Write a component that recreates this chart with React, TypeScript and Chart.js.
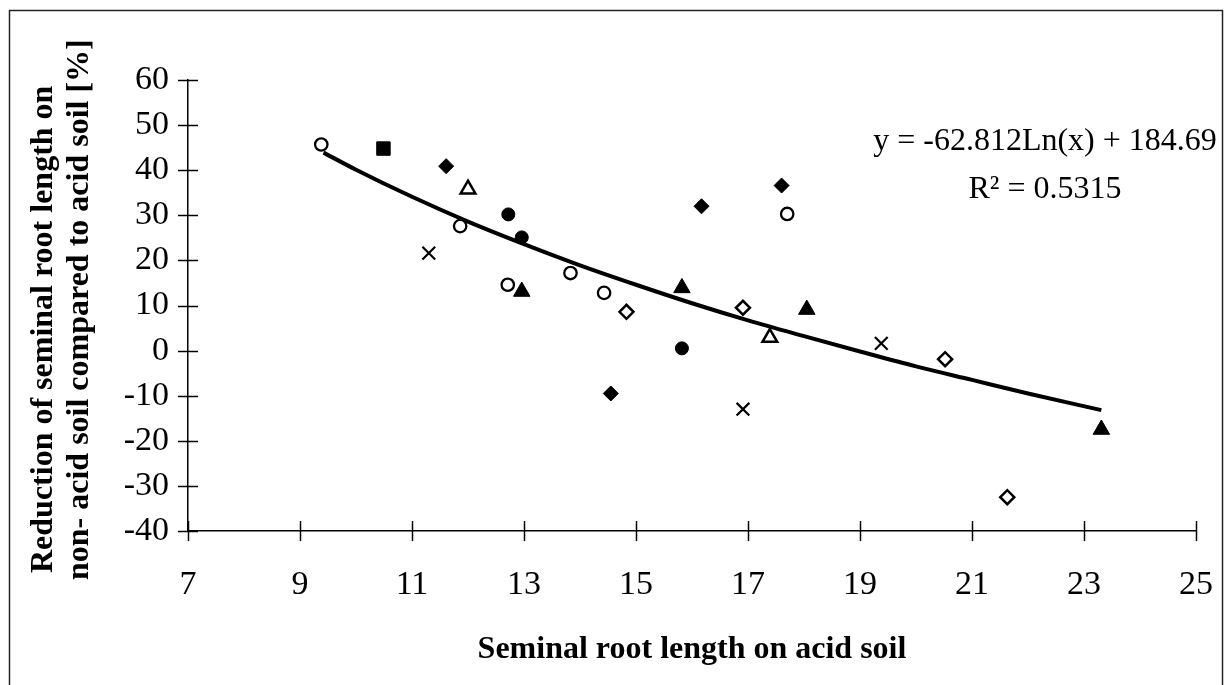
import React, { useEffect, useRef } from "react";
import { Chart, registerables } from "chart.js";

Chart.register(...registerables);

// ---- Data ----
const openCircles: number[][] = [
  [9.38, 45.7], [11.86, 27.6], [12.71, 14.6], [13.83, 17.2], [14.43, 12.8], [17.7, 30.3],
];
const filledSquares: number[][] = [[10.49, 44.8]];
const filledDiamonds: number[][] = [
  [11.61, 40.9], [14.55, -9.5], [16.17, 32.0], [17.6, 36.6],
];
const openTriangles: number[][] = [[12.0, 35.8], [17.39, 2.9]];
const filledCircles: number[][] = [[12.72, 30.2], [12.96, 25.1], [15.82, 0.5]];
const crosses: number[][] = [[11.3, 21.6], [16.91, -13.0], [19.38, 1.6]];
const filledTriangles: number[][] = [
  [12.96, 13.1], [15.82, 13.9], [18.05, 9.1], [23.31, -17.5],
];
const openDiamonds: number[][] = [
  [14.83, 8.6], [16.91, 9.5], [20.52, -1.9], [21.63, -32.5],
];

// logarithmic trend line
const trendX: number[] = [9.42, 10, 11, 12, 13, 14, 15, 16, 17, 18, 19, 20, 21, 22, 23.31];
const trendY: number[] = [43.9, 40.1, 34.1, 28.6, 23.6, 18.9, 14.6, 10.5, 6.7, 3.2, -0.2, -3.5, -6.5, -9.5, -13.2];

const xMin = 7;
const xMax = 25;
const xStep = 2;
const yMin = -40;
const yMax = 60;
const yStep = 10;

const xTitle = "Seminal root length on acid soil";
const yTitleLines = [
  "Reduction of seminal root length on",
  "non- acid soil compared to acid soil [%]",
];
const equationText = "y = -62.812Ln(x) + 184.69";
const r2Text = "R\u00B2 = 0.5315";

const SERIF = "'Liberation Serif', 'Times New Roman', Times, serif";

const toPoints = (arr: number[][]) => arr.map(([x, y]) => ({ x, y }));

const decorPlugin = {
  id: "decor",
  beforeDraw(chart: any) {
    const ctx = chart.ctx;
    ctx.save();
    ctx.fillStyle = "#fff";
    ctx.fillRect(0, 0, chart.width, chart.height);
    ctx.restore();
  },
  afterDraw(chart: any) {
    const ctx = chart.ctx as CanvasRenderingContext2D;
    const xs = chart.scales.x;
    const ys = chart.scales.y;
    ctx.save();

    // outer frame
    ctx.strokeStyle = "#222";
    ctx.lineWidth = 1.5;
    ctx.strokeRect(9.5, 10.5, 1213, 700);

    // crossing tick marks
    ctx.strokeStyle = "#000";
    ctx.lineWidth = 1.5;
    const axX = xs.left;
    const axY = ys.bottom;
    ys.ticks.forEach((t: any) => {
      const py = Math.round(ys.getPixelForValue(t.value)) + 0.5;
      ctx.beginPath();
      ctx.moveTo(axX - 10, py);
      ctx.lineTo(axX + 10, py);
      ctx.stroke();
    });
    xs.ticks.forEach((t: any) => {
      const px = Math.round(xs.getPixelForValue(t.value)) + 0.5;
      ctx.beginPath();
      ctx.moveTo(px, axY - 10);
      ctx.lineTo(px, axY + 10);
      ctx.stroke();
    });

    // y axis title (two rotated lines)
    ctx.fillStyle = "#000";
    ctx.font = `bold 32px ${SERIF}`;
    ctx.textAlign = "left";
    ctx.textBaseline = "alphabetic";
    const starts = [
      [52, 573],
      [88, 580],
    ];
    yTitleLines.forEach((line, i) => {
      ctx.save();
      ctx.translate(starts[i][0], starts[i][1]);
      ctx.rotate(-Math.PI / 2);
      ctx.fillText(line, 0, 0);
      ctx.restore();
    });

    // trend line equation
    ctx.font = `32px ${SERIF}`;
    ctx.textAlign = "center";
    ctx.fillText(equationText, 1045, 150);
    ctx.fillText(r2Text, 1045, 198);

    ctx.restore();
  },
};

export default function App() {
  const canvasRef = useRef<HTMLCanvasElement | null>(null);

  useEffect(() => {
    const canvas = canvasRef.current;
    if (!canvas) return;

    const black = "#000";
    const white = "#fff";

    const chart = new Chart(canvas, {
      type: "scatter",
      data: {
        datasets: [
          {
            label: "trend",
            data: trendX.map((x, i) => ({ x, y: trendY[i] })),
            showLine: true,
            borderColor: black,
            borderWidth: 4,
            pointRadius: 0,
            fill: false,
            cubicInterpolationMode: "monotone",
            order: 10,
          } as any,
          {
            label: "open circles",
            data: toPoints(openCircles),
            pointStyle: "circle",
            pointRadius: 6.2,
            pointBorderWidth: 2.3,
            pointBackgroundColor: white,
            pointBorderColor: black,
            order: 1,
          },
          {
            label: "filled squares",
            data: toPoints(filledSquares),
            pointStyle: "rect",
            pointRadius: 9.5,
            pointBorderWidth: 1,
            pointBackgroundColor: black,
            pointBorderColor: black,
            order: 1,
          },
          {
            label: "filled diamonds",
            data: toPoints(filledDiamonds),
            pointStyle: "rectRot",
            pointRadius: 7.5,
            pointBorderWidth: 1,
            pointBackgroundColor: black,
            pointBorderColor: black,
            order: 1,
          },
          {
            label: "open triangles",
            data: toPoints(openTriangles),
            pointStyle: "triangle",
            pointRadius: 8.5,
            pointBorderWidth: 2.5,
            pointBackgroundColor: white,
            pointBorderColor: black,
            order: 1,
          },
          {
            label: "filled circles",
            data: toPoints(filledCircles),
            pointStyle: "circle",
            pointRadius: 6.5,
            pointBorderWidth: 1,
            pointBackgroundColor: black,
            pointBorderColor: black,
            order: 1,
          },
          {
            label: "crosses",
            data: toPoints(crosses),
            pointStyle: "crossRot",
            pointRadius: 9,
            pointBorderWidth: 2.2,
            pointBackgroundColor: black,
            pointBorderColor: black,
            order: 1,
          },
          {
            label: "filled triangles",
            data: toPoints(filledTriangles),
            pointStyle: "triangle",
            pointRadius: 9.5,
            pointBorderWidth: 1,
            pointBackgroundColor: black,
            pointBorderColor: black,
            order: 1,
          },
          {
            label: "open diamonds",
            data: toPoints(openDiamonds),
            pointStyle: "rectRot",
            pointRadius: 7,
            pointBorderWidth: 2.5,
            pointBackgroundColor: white,
            pointBorderColor: black,
            order: 1,
          },
        ],
      },
      options: {
        responsive: false,
        maintainAspectRatio: false,
        animation: false,
        events: [],
        layout: { padding: { top: 80, right: 28, bottom: 0, left: 0 } },
        plugins: {
          legend: { display: false },
          tooltip: { enabled: false },
          title: { display: false },
        },
        scales: {
          x: {
            type: "linear",
            min: xMin,
            max: xMax,
            ticks: {
              stepSize: xStep,
              color: black,
              font: { family: SERIF, size: 34, lineHeight: 1 },
              padding: 37,
              maxRotation: 0,
              autoSkip: false,
            },
            grid: { display: false, drawTicks: false },
            border: { display: true, color: black, width: 1.5 },
            title: {
              display: true,
              text: xTitle,
              color: black,
              font: { family: SERIF, size: 32, weight: "bold", lineHeight: 1.2 },
              padding: { top: 0, bottom: 16 },
            },
            afterFit: (s: any) => {
              s.height = 154;
              s.paddingLeft = 0;
              s.paddingRight = 0;
            },
          },
          y: {
            type: "linear",
            min: yMin,
            max: yMax,
            ticks: {
              stepSize: yStep,
              color: black,
              font: { family: SERIF, size: 34, lineHeight: 1 },
              padding: 19,
              autoSkip: false,
            },
            grid: { display: false, drawTicks: false },
            border: { display: true, color: black, width: 1.5 },
            title: { display: false },
            afterFit: (s: any) => {
              s.width = 188;
              s.paddingTop = 0;
              s.paddingBottom = 0;
            },
          },
        },
      },
      plugins: [decorPlugin],
    } as any);

    return () => {
      chart.destroy();
    };
  }, []);

  return (
    <div style={{ position: "absolute", left: 0, top: 0, width: 1224, height: 685, overflow: "hidden" }}>
      <canvas ref={canvasRef} width={1224} height={685} style={{ display: "block" }} />
    </div>
  );
}
